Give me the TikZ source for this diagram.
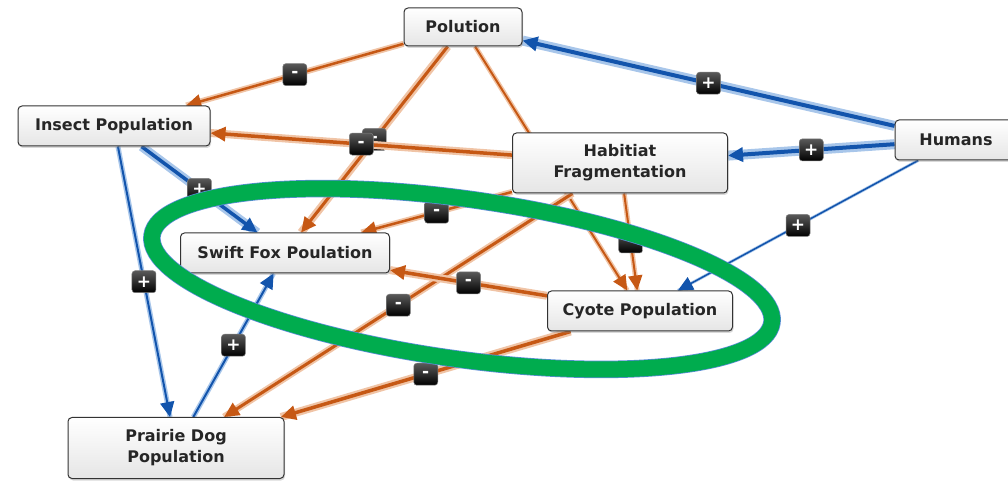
\documentclass[tikz,border=0pt]{standalone}
\usepackage{fontspec}
\setmainfont{DejaVu Sans}
\usetikzlibrary{arrows.meta,shadows}
\definecolor{linkorange}{RGB}{198,88,20}
\definecolor{haloorange}{RGB}{240,196,166}
\definecolor{linkblue}{RGB}{18,84,172}
\definecolor{haloblue}{RGB}{168,198,234}
\definecolor{ringgreen}{RGB}{0,172,78}
\definecolor{ringblue}{RGB}{90,140,215}
\pgfdeclarelayer{bg}
\pgfsetlayers{bg,main}
\tikzset{
	factor/.style={draw=black!80, line width=1pt, rounded corners=4pt, top color=white, bottom color=black!10,
		drop shadow={opacity=0.3, shadow xshift=1pt, shadow yshift=-2pt},
		font=\fontsize{16}{21}\selectfont\bfseries, text=black!85, align=center, inner sep=0pt},
	signbox/.style={rounded corners=3pt, top color=black!65, bottom color=black, draw=black!50, line width=0.5pt,
		text=white, font=\fontsize{17}{17}\selectfont\bfseries, minimum width=24pt, minimum height=22pt, inner sep=0pt},
	minuslink/.style 2 args={draw=linkorange, line width=#1pt, -{Triangle[length=15pt,width=14pt]},
		preaction={draw=haloorange, line width=#2pt, arrows=-}},
	pluslink/.style 2 args={draw=linkblue, line width=#1pt, -{Triangle[length=15pt,width=14pt]},
		preaction={draw=haloblue, line width=#2pt, arrows=-}},
}
\begin{document}
\begin{tikzpicture}[x=1pt,y=1pt]
				\clip (0,0) rectangle (1008,484);
				\node[factor, minimum width=118, minimum height=38] (pol) at (463,457) {Polution};
				\node[factor, minimum width=192, minimum height=40] (ins) at (114,358) {Insect Population};
				\node[factor, minimum width=215, minimum height=60] (hab) at (620,321) {Habitiat\\Fragmentation};
				\node[factor, minimum width=122, minimum height=40] (hum) at (956,344) {Humans};
				\node[factor, minimum width=209, minimum height=40] (fox) at (285,231) {Swift Fox Poulation};
				\node[factor, minimum width=185, minimum height=40] (coy) at (640,173) {Cyote Population};
				\node[factor, minimum width=216, minimum height=61] (dog) at (176,36) {Prairie Dog\\Population};
				\begin{pgfonlayer}{bg}
					\draw[pluslink={4}{10}] (hum) -- node[signbox] {+} (pol);
					\draw[pluslink={4}{10}] (hum) -- node[signbox] {+} (hab);
					\draw[pluslink={1.5}{3}] (hum) -- node[signbox] {+} (coy);
					\draw[minuslink={2.5}{6}] (pol) -- node[signbox] {-} (ins);
					\draw[minuslink={2}{5}] (pol) -- (coy);
					\draw[minuslink={3}{8}] (pol) -- node[signbox] {-} (fox);
					\draw[minuslink={3.5}{8}] (hab) -- node[signbox] {-} (ins);
					\draw[minuslink={2.5}{6}] (hab) -- node[signbox] {-} (fox);
					\draw[minuslink={3}{7}] (hab) -- node[signbox] {-} (dog);
					\draw[minuslink={2}{5}] (hab) -- node[signbox] {-} (coy);
					\draw[pluslink={3.5}{9}] (ins) -- node[signbox] {+} (fox);
					\draw[pluslink={2}{5}] (ins) -- node[signbox] {+} (dog);
					\draw[pluslink={2}{5}] (dog) -- node[signbox] {+} (fox);
					\draw[minuslink={3.5}{8}] (coy) -- node[signbox] {-} (fox);
					\draw[minuslink={3.5}{8}] (coy) -- node[signbox] {-} (dog);
				\end{pgfonlayer}
				\draw[draw=ringgreen, line width=16pt, preaction={draw=ringblue, line width=17.5pt},
					rotate around={-8:(462,205)}] (462,205) ellipse [x radius=313, y radius=80];
\end{tikzpicture}
\end{document}
